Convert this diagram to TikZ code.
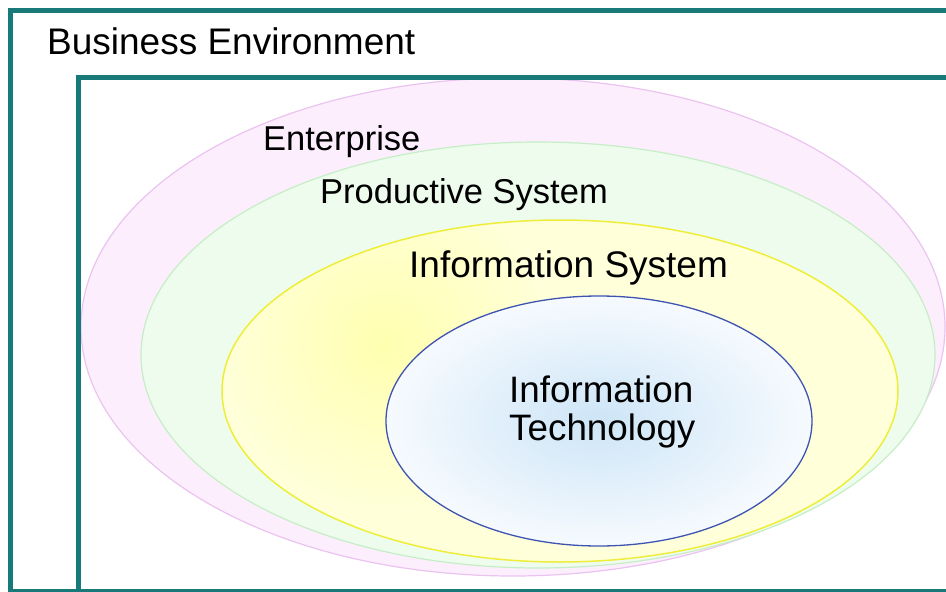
\documentclass[tikz,border=0pt]{standalone}
\usepackage{fontspec}
\setmainfont{Liberation Sans}
\definecolor{teal1}{HTML}{177A78}
\definecolor{pinkfill}{HTML}{FCEEFC}
\definecolor{pinkline}{HTML}{EBC3F0}
\definecolor{greenfill}{HTML}{EEFCEE}
\definecolor{greenline}{HTML}{C6EEC6}
\definecolor{yelfill}{HTML}{FFFFDA}
\definecolor{yelhi}{HTML}{FFFFB0}
\definecolor{yelline}{HTML}{EEEE3A}
\definecolor{bluein}{HTML}{CDE5F7}
\definecolor{blueout}{HTML}{F6FAFE}
\definecolor{blueline}{HTML}{3F54B0}
\tikzset{
  frameline/.style={draw=teal1, line width=5pt, line cap=rect},
  lbl/.style={inner sep=0pt, anchor=base west, text=black},
}
\begin{document}
\begin{tikzpicture}[x=1pt,y=-1pt]
\useasboundingbox (0,0) rectangle (946,592);
\clip (0,0) rectangle (946,592);
\fill[white] (0,0) rectangle (946,592);
% Enterprise ellipse
\draw[pinkline, fill=pinkfill, line width=1.2pt] (513,327) ellipse [x radius=432pt, y radius=249pt];
% Productive system ellipse
\draw[greenline, fill=greenfill, line width=1.2pt] (538,355) ellipse [x radius=397pt, y radius=213pt];
% Information system ellipse
\fill[yelfill] (560,391) ellipse [x radius=338pt, y radius=171pt];
\begin{scope}
  \clip (560,391) ellipse [x radius=338pt, y radius=171pt];
  \shade[inner color=yelhi, outer color=yelfill] (385,345) circle [radius=170pt];
\end{scope}
\draw[yelline, line width=1.5pt] (560,391) ellipse [x radius=338pt, y radius=171pt];
% Information technology ellipse
\shade[inner color=bluein, outer color=blueout] (599,421) ellipse [x radius=213pt, y radius=125pt];
\draw[blueline, line width=1.3pt] (599,421) ellipse [x radius=213pt, y radius=125pt];
% frames
\draw[frameline] (960,10) -- (10,10) -- (10,591) -- (960,591);
\draw[frameline] (960,77) -- (78.5,77) -- (78.5,591);
% labels
\node[lbl, font=\fontsize{37}{40}\selectfont] (be) at (47,54) {Business Environment};
\node[lbl, font=\fontsize{34.5}{38}\selectfont] (ent) at (263,150) {Enterprise};
\node[lbl, font=\fontsize{34.5}{38}\selectfont] (ps) at (320,203) {Productive System};
\node[lbl, font=\fontsize{37}{40}\selectfont] (is) at (409,277) {Information System};
\node[lbl, font=\fontsize{36.8}{40}\selectfont] (it1) at (509,402) {Information};
\node[lbl, font=\fontsize{36.8}{40}\selectfont] (it2) at (509,440) {Technology};
\end{tikzpicture}
\end{document}
